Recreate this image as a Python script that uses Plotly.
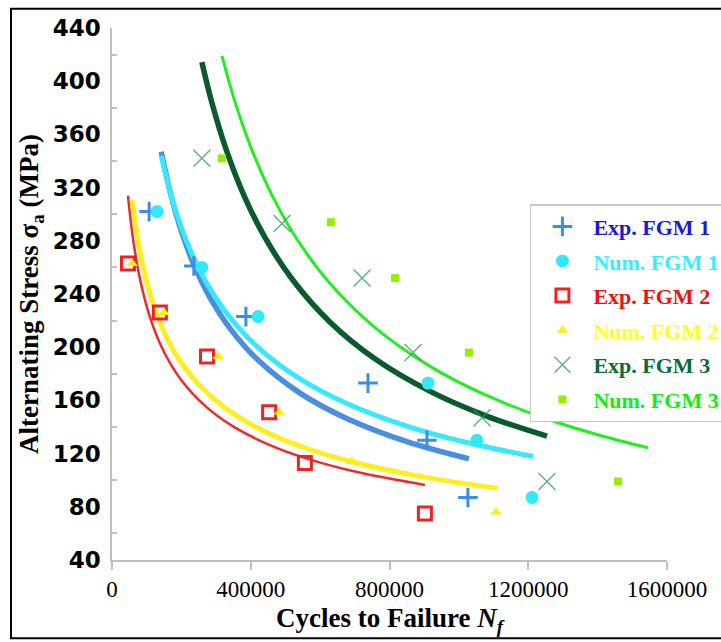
import plotly.graph_objects as go

# ---- measured S-N data (cycles, stress in MPa) ----
exp1_n = [107000, 236000, 386000, 738000, 908000, 1026000]
exp1_s = [302, 261, 223, 173, 130, 87]
num1_n = [130000, 259000, 421000, 911000, 1052000, 1211000]
num1_s = [302, 260, 223, 173, 130, 87]
exp2_n = [46000, 138000, 274000, 453000, 556000, 902000]
exp2_s = [263, 226, 193, 151, 113, 75]
num2_n = [58000, 150000, 306000, 482000, 692000, 1107000]
num2_s = [263, 226, 193, 151, 114, 76]
exp3_n = [259000, 490000, 721000, 868000, 1067000, 1254000]
exp3_s = [342, 293, 252, 196, 147, 99]
num3_n = [317000, 631000, 816000, 1029000, 1237000, 1459000]
num3_s = [342, 294, 252, 196, 147, 99]

# ---- power-law trend curves, sampled along each curve ----
tr_exp2_n = [46000, 60000, 80000, 110000, 150000, 200000, 270000, 350000, 450000, 560000, 700000, 902000]
tr_exp2_s = [314, 282.6, 252.1, 222.1, 196.4, 175.2, 155.5, 140.3, 127.0, 116.4, 106.5, 96.4]
tr_num2_n = [58000, 75000, 100000, 135000, 180000, 240000, 320000, 420000, 540000, 700000, 900000, 1110000]
tr_num2_s = [310.7, 280.0, 249.2, 220.7, 196.3, 174.9, 155.6, 139.3, 125.9, 113.3, 102.3, 94.0]
tr_exp1_n = [142000, 170000, 200000, 234000, 280000, 340000, 420000, 542000, 680000, 850000, 1029000]
tr_exp1_s = [347.0, 314.2, 287.2, 263.3, 238.4, 214.2, 190.5, 165.5, 146.0, 129.0, 116.1]
tr_num1_n = [142000, 170000, 200000, 234000, 280000, 340000, 420000, 542000, 680000, 850000, 1020000, 1214000]
tr_num1_s = [343.9, 314.4, 289.9, 268.0, 245.0, 222.4, 200.1, 176.2, 157.3, 140.7, 128.5, 117.8]
tr_exp3_n = [259000, 290000, 330000, 380000, 440000, 520000, 628000, 760000, 920000, 1080000, 1254000]
tr_exp3_s = [414.4, 381.9, 348.0, 314.4, 282.9, 250.9, 219.0, 190.9, 166.4, 148.2, 133.1]
tr_num3_n = [317000, 340000, 370000, 410000, 460000, 530000, 628000, 760000, 917000, 1080000, 1250000, 1400000, 1545000]
tr_num3_s = [419.0, 397.1, 372.2, 344.0, 314.9, 282.5, 248.0, 214.3, 185.6, 163.7, 146.4, 134.2, 124.4]

x_ticks = [0, 400000, 800000, 1200000, 1600000]
x_tick_text = ["0", "400000", "800000", "1200000", "1600000"]
y_ticks = [40, 80, 120, 160, 200, 240, 280, 320, 360, 400, 440]

fig = go.Figure()

# trend curves (drawn under the markers)
curves = [
    (tr_exp2_n, tr_exp2_s, "#ee2a2a", 2.5),
    (tr_num2_n, tr_num2_s, "#ffee22", 5),
    (tr_exp1_n, tr_exp1_s, "#4a8fdb", 5.5),
    (tr_num1_n, tr_num1_s, "#3ae8fb", 5),
    (tr_exp3_n, tr_exp3_s, "#0a5a2c", 5.5),
    (tr_num3_n, tr_num3_s, "#22ee22", 3),
]
for cx, cy, col, w in curves:
    fig.add_trace(go.Scatter(x=cx, y=cy, mode="lines", showlegend=False,
                             line=dict(color=col, width=w, shape="spline"),
                             hoverinfo="skip"))


def lab(text, color):
    return f"<span style='color:{color}'>{text}</span>"


series = [
    (exp1_n, exp1_s, lab("Exp. FGM 1", "#1a1ad0"),
     dict(symbol="cross-thin", size=14, color="#3a8ee8", line=dict(width=3, color="#3a8ee8"))),
    (num1_n, num1_s, lab("Num. FGM 1", "#33f0ff"),
     dict(symbol="circle", size=13, color="#33e8f8", line=dict(width=0))),
    (exp2_n, exp2_s, lab("Exp. FGM 2", "#ee1111"),
     dict(symbol="square-open", size=13, color="#ee2222", line=dict(width=3, color="#ee2222"))),
    (num2_n, num2_s, lab("Num. FGM 2", "#ffff22"),
     dict(symbol="triangle-up", size=10, color="#ffee11", line=dict(width=0))),
    (exp3_n, exp3_s, lab("Exp. FGM 3", "#0b6b36"),
     dict(symbol="x-thin", size=17, color="rgba(50,150,95,0.75)", line=dict(width=1.5, color="rgba(50,150,95,0.75)"))),
    (num3_n, num3_s, lab("Num. FGM 3", "#11ee11"),
     dict(symbol="square", size=8, color="#99ee00", line=dict(width=0))),
]
for i, (sx, sy, name, mk) in enumerate(series):
    fig.add_trace(go.Scatter(x=sx, y=sy, mode="markers", name=name, marker=mk,
                             legendgroup=f"g{i}"))

axis_col = "#bfbfbf"
fig.update_layout(
    width=721, height=642,
    margin=dict(l=112, r=54, t=28, b=82, autoexpand=False),
    plot_bgcolor="white", paper_bgcolor="white",
    showlegend=True,
    legend=dict(x=0.753, y=0.669, xanchor="left", yanchor="top",
                bgcolor="white", bordercolor="#c8c8c8", borderwidth=1.5,
                font=dict(family="Liberation Serif", size=22, weight="bold"),
                itemwidth=52, traceorder="grouped", tracegroupgap=3),
    xaxis=dict(range=[0, 1600000], tickmode="array", tickvals=x_ticks, ticktext=x_tick_text,
               showgrid=False, zeroline=False, showline=True, linecolor=axis_col, linewidth=1.5,
               ticks="outside", ticklen=8, tickcolor=axis_col, tickwidth=1.5,
               tickfont=dict(family="Liberation Serif", size=23, color="black"),
               title=dict(text="<b>Cycles to Failure <i>N</i><sub><i>f</i></sub></b>",
                          font=dict(family="Liberation Serif", size=27, color="black"),
                          standoff=7)),
    yaxis=dict(range=[40, 440], tickmode="array", tickvals=y_ticks,
               showgrid=False, zeroline=False, showline=True, linecolor=axis_col, linewidth=1.5,
               ticks="", ticklabelstandoff=5,
               minor=dict(tickmode="linear", tick0=60, dtick=40, ticks="inside", ticklen=5,
                          tickcolor=axis_col, tickwidth=1.5, showgrid=False),
               tickfont=dict(family="DejaVu Sans", size=23, color="black", weight="bold"),
               title=dict(text="<b>Alternating Stress σ<sub>a</sub> (MPa)</b>",
                          font=dict(family="Liberation Serif", size=27, color="black"),
                          standoff=6)),
    shapes=[dict(type="rect", xref="paper", yref="paper",
                 x0=-0.182, x1=1.12, y0=-0.147, y1=1.036,
                 line=dict(color="black", width=2), fillcolor="rgba(0,0,0,0)")],
)

fig.write_html("out.html")
